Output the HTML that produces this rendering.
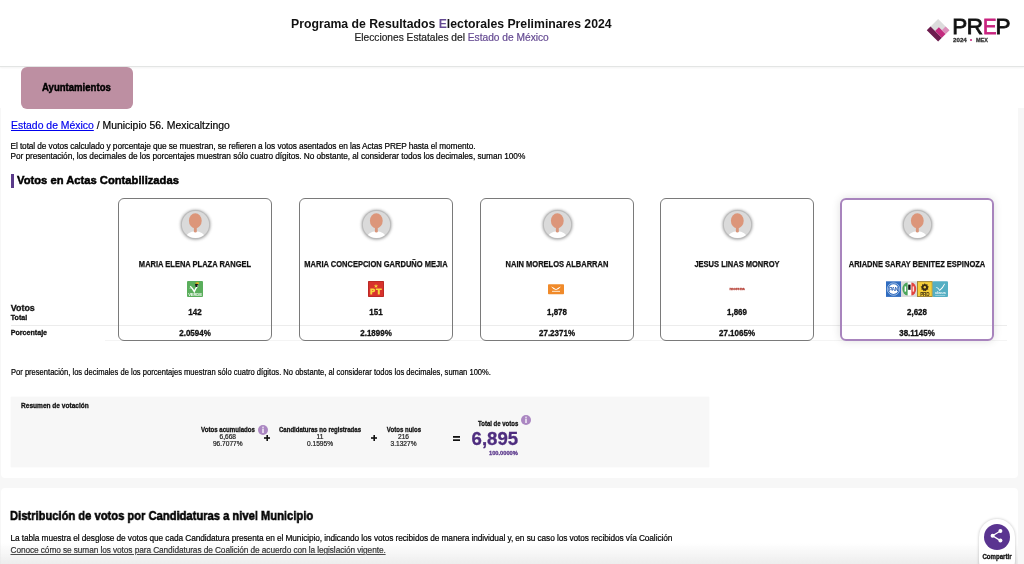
<!DOCTYPE html>
<html><head><meta charset="utf-8">
<style>
html,body{margin:0;padding:0;width:1024px;height:564px;overflow:hidden;background:#f7f7f7;font-family:"Liberation Sans",sans-serif;color:#111;position:relative}
#root{position:absolute;left:0;top:0;width:1024px;height:564px;will-change:transform}
.a{position:absolute;}
.t{position:absolute;white-space:nowrap;line-height:1;}
.b{font-weight:bold;-webkit-text-stroke-width:0.25px}
.t{-webkit-text-stroke-width:0.2px}
.t.b{-webkit-text-stroke-width:0.3px}
.c{text-align:center;}
#hdr{left:0;top:0;width:1024px;height:66px;background:#fff;border-bottom:1px solid #e3e5e4;box-shadow:0 1px 2px rgba(0,0,0,0.05);z-index:2}
#nav{left:0;top:67px;width:1024px;height:41px;background:#fff;}
#main{left:1px;top:108px;width:1017px;height:369.7px;background:#fff;border-radius:0 0 4px 4px}
#sec2{left:1px;top:488px;width:1017px;height:90px;background:#fff;border-radius:4px 4px 0 0}
.card{position:absolute;top:198px;width:154px;height:143px;box-sizing:border-box;border:1px solid #7a7a7a;border-radius:6px;z-index:3}
.card.sel{border:2px solid #a884bd;box-shadow:0 0 9px rgba(0,0,0,0.13)}
.av{position:absolute;left:62px;top:11.2px;width:29px;height:29px}
.pur{color:#654a92}
.nm{-webkit-text-stroke-width:0.25px;position:absolute;left:-40px;width:calc(100% + 80px);top:61.4px;text-align:center;font-size:8.4px;transform:scaleX(0.897);font-weight:bold;line-height:1;white-space:nowrap}
.vt{-webkit-text-stroke-width:0.3px;transform:scaleX(0.92);position:absolute;left:0;width:100%;top:109.3px;text-align:center;font-size:8.7px;font-weight:bold;line-height:1}
.pc{-webkit-text-stroke-width:0.3px;transform:scaleX(0.92);position:absolute;left:0;width:100%;top:129.7px;text-align:center;font-size:8.7px;font-weight:bold;line-height:1}
.sel .av{left:61px;top:10.2px}
.sel .nm{top:60.4px}
.sel .vt{top:108.3px}
.sel .pc{top:128.7px}
</style></head><body><div id="root">
<div id="hdr" class="a">
  <div class="t b" style="left:290.6px;top:16.8px;font-size:13px;-webkit-text-stroke-width:0;transform:scaleX(0.942);transform-origin:0 0;color:#111">Programa de Resultados <span class="pur">E</span>lectorales Preliminares 2024</div>
  <div class="t" style="left:354.5px;top:32.5px;font-size:10.2px;color:#222">Elecciones Estatales del <span class="pur">Estado de México</span></div>
  <svg class="a" style="left:0;top:0" width="1024" height="66">
    <g transform="translate(926.8,30.2) rotate(-45)">
      <rect x="0" y="0" width="16" height="16" fill="#dcdcdc"/>
      <rect x="0" y="0" width="5.2" height="16" fill="#6d1b4e"/>
      <rect x="5.2" y="6.5" width="5.4" height="9.5" fill="#c42a7f"/>
      <rect x="10.6" y="10.6" width="5.4" height="5.4" fill="#dc8dba"/>
    </g>
  </svg>
  <div class="t" style="left:952.2px;top:16.3px;font-size:22.5px;color:#111;-webkit-text-stroke:0.8px #111">P</div>
  <div class="t" style="left:966.8px;top:16.3px;font-size:22.5px;color:#111;-webkit-text-stroke:0.8px #111">R</div>
  <div class="t" style="left:982.6px;top:16.3px;font-size:22.5px;color:#c8247f;-webkit-text-stroke:0.8px #c8247f;transform:scaleX(0.9);transform-origin:0 0">E</div>
  <div class="t" style="left:995.6px;top:16.3px;font-size:22.5px;color:#111;-webkit-text-stroke:0.8px #111">P</div>
  <div class="t b" style="left:953px;top:37px;font-size:6.2px;color:#333">2024</div>
  <div class="a" style="left:970.4px;top:38.5px;width:2px;height:2px;border-radius:50%;background:#c8247f"></div>
  <div class="t b" style="left:976.4px;top:37px;font-size:6.2px;transform:scaleX(0.88);transform-origin:0 0;color:#333">MEX</div>
</div>
<div id="nav" class="a"></div><div id="main" class="a"></div>
<div id="sec2" class="a"></div>

<!-- tab button -->
<div class="a" style="left:21px;top:67px;width:112px;height:41.5px;background:#bd8fa2;border-radius:6px;z-index:3"></div>
<div class="t b" style="left:41.6px;top:82.6px;font-size:10.2px;-webkit-text-stroke-width:0.45px;transform:scaleX(0.94);transform-origin:0 0;color:#000;z-index:4">Ayuntamientos</div>

<!-- breadcrumb -->
<div class="t" style="left:10.5px;top:119.8px;font-size:10.8px;transform:scaleX(0.965);transform-origin:0 0;color:#000"><span style="color:#0000ee;text-decoration:underline">Estado de México</span> / Municipio 56. Mexicaltzingo</div>
<div class="t" style="left:10.5px;top:141.8px;font-size:8.3px;letter-spacing:-0.093px;color:#000">El total de votos calculado y porcentaje que se muestran, se refieren a los votos asentados en las Actas PREP hasta el momento.</div>
<div class="t" style="left:10.5px;top:151.8px;font-size:8.3px;letter-spacing:-0.063px;color:#000">Por presentación, los decimales de los porcentajes muestran sólo cuatro dígitos. No obstante, al considerar todos los decimales, suman 100%</div>

<!-- heading -->
<div class="a" style="left:10.8px;top:174px;width:3.6px;height:13.5px;background:#5a3a8a"></div>
<div class="t b" style="left:17px;top:175.2px;font-size:11.8px;-webkit-text-stroke-width:0.5px;transform:scaleX(0.95);transform-origin:0 0;color:#000">Votos en Actas Contabilizadas</div>

<!-- row labels -->
<div class="t b" style="left:10.8px;top:304px;font-size:8.9px;color:#111">Votos</div>
<div class="t b" style="left:10.8px;top:314.6px;font-size:7.1px;color:#111">Total</div>
<div class="a" style="left:11px;top:325px;width:996px;height:1px;background:#ececec"></div>
<div class="a" style="left:105px;top:340px;width:902px;height:1px;background:#f4f4f4"></div>
<div class="t b" style="left:10.8px;top:330.4px;font-size:7.1px;color:#111">Porcentaje</div>

<div class="card" style="left:118px"><svg class="av" width="29" height="29" viewBox="0 0 29 29" style="overflow:visible">
<defs><clipPath id="cp0"><circle cx="14.5" cy="14.5" r="13.6"/></clipPath>
<filter id="sh0" x="-50%" y="-50%" width="200%" height="200%"><feGaussianBlur stdDeviation="1.6"/></filter></defs>
<circle cx="14.5" cy="14.8" r="14.8" fill="#7a7a7a" opacity="0.75" filter="url(#sh0)"/>
<circle cx="14.5" cy="14.5" r="14.5" fill="#bcbcbc"/>
<circle cx="14.5" cy="14.5" r="13.6" fill="#dadada"/>
<g clip-path="url(#cp0)">
<ellipse cx="14.4" cy="27.6" rx="9.6" ry="6.3" fill="#ffffff"/>
<rect x="12.9" y="15" width="2.9" height="7.6" rx="1.4" fill="#d9957a"/>
<ellipse cx="14.3" cy="10.7" rx="6.4" ry="7.5" fill="#dc967a"/>
</g></svg><div class="nm">MARIA ELENA PLAZA RANGEL</div><svg class="a" style="left:68px;top:82px" width="16" height="16" viewBox="0 0 16 16">
<rect width="16" height="16" rx="1" fill="#5aae5c"/>
<path d="M3.2 5.2 Q5 6.5 7.3 10.6 Q9 6.8 10.8 4.8" stroke="#fff" stroke-width="1.4" fill="none"/>
<path d="M2.2 7.3 L5.2 7.3" stroke="#e8f5e8" stroke-width="0.4"/>
<path d="M8.2 2 Q10.6 0.6 12.2 1.8 L11.8 3.1 Q10.2 2.2 9.2 3.2 Z" fill="#f3b31d"/>
<path d="M8 3.1 Q9.6 2.4 11 3.4 L11.2 5 Q10.4 6.2 8.6 5.8 Z" fill="#111"/>
<path d="M9.6 4.6 Q10.8 4.2 11.5 4.8 L11 5.6 Z" fill="#fff"/>
<text x="8" y="14.6" font-size="4.2" font-weight="bold" fill="#f2fbf2" text-anchor="middle" font-family="Liberation Sans" letter-spacing="-0.15">VERDE</text>
</svg><div class="vt">142</div><div class="pc">2.0594%</div></div>
<div class="card" style="left:299px"><svg class="av" width="29" height="29" viewBox="0 0 29 29" style="overflow:visible">
<defs><clipPath id="cp1"><circle cx="14.5" cy="14.5" r="13.6"/></clipPath>
<filter id="sh1" x="-50%" y="-50%" width="200%" height="200%"><feGaussianBlur stdDeviation="1.6"/></filter></defs>
<circle cx="14.5" cy="14.8" r="14.8" fill="#7a7a7a" opacity="0.75" filter="url(#sh1)"/>
<circle cx="14.5" cy="14.5" r="14.5" fill="#bcbcbc"/>
<circle cx="14.5" cy="14.5" r="13.6" fill="#dadada"/>
<g clip-path="url(#cp1)">
<ellipse cx="14.4" cy="27.6" rx="9.6" ry="6.3" fill="#ffffff"/>
<rect x="12.9" y="15" width="2.9" height="7.6" rx="1.4" fill="#d9957a"/>
<ellipse cx="14.3" cy="10.7" rx="6.4" ry="7.5" fill="#dc967a"/>
</g></svg><div class="nm">MARIA CONCEPCION GARDUÑO MEJIA</div><svg class="a" style="left:68px;top:82px" width="16" height="16" viewBox="0 0 16 16">
<rect width="16" height="16" rx="1" fill="#d8322c"/>
<rect x="0.3" y="0.3" width="15.4" height="15.4" rx="1" fill="none" stroke="#9a2420" stroke-width="0.6"/>
<path d="M8 3 L8.6 4.6 L10.2 4.6 L8.9 5.5 L9.4 7 L8 6.1 L6.6 7 L7.1 5.5 L5.8 4.6 L7.4 4.6 Z" fill="#f6d23a"/>
<path d="M2.3 13.5 V7.4 H5.3 Q7.2 7.4 7.2 9.3 Q7.2 11.2 5.3 11.2 H4.2 V13.5 Z M4.2 8.9 V9.8 H5 Q5.5 9.8 5.5 9.35 Q5.5 8.9 5 8.9 Z" fill="#f8d53a"/>
<path d="M7.8 7.4 H13.8 V9 H11.8 V13.5 H9.8 V9 H7.8 Z" fill="#f8d53a"/>
</svg><div class="vt">151</div><div class="pc">2.1899%</div></div>
<div class="card" style="left:479.5px"><svg class="av" width="29" height="29" viewBox="0 0 29 29" style="overflow:visible">
<defs><clipPath id="cp2"><circle cx="14.5" cy="14.5" r="13.6"/></clipPath>
<filter id="sh2" x="-50%" y="-50%" width="200%" height="200%"><feGaussianBlur stdDeviation="1.6"/></filter></defs>
<circle cx="14.5" cy="14.8" r="14.8" fill="#7a7a7a" opacity="0.75" filter="url(#sh2)"/>
<circle cx="14.5" cy="14.5" r="14.5" fill="#bcbcbc"/>
<circle cx="14.5" cy="14.5" r="13.6" fill="#dadada"/>
<g clip-path="url(#cp2)">
<ellipse cx="14.4" cy="27.6" rx="9.6" ry="6.3" fill="#ffffff"/>
<rect x="12.9" y="15" width="2.9" height="7.6" rx="1.4" fill="#d9957a"/>
<ellipse cx="14.3" cy="10.7" rx="6.4" ry="7.5" fill="#dc967a"/>
</g></svg><div class="nm">NAIN MORELOS ALBARRAN</div><svg class="a" style="left:67px;top:84.5px" width="16" height="11" viewBox="0 0 16 11">
<rect width="16" height="10" y="0.2" rx="0.8" fill="#f08a2a"/>
<path d="M3 2.6 Q5 3.2 6.5 4.2 L8 5.2 L9.5 4.2 Q11 3.2 13 2.6 Q11.5 5 8 5.9 Q4.5 5 3 2.6 Z" fill="#fff"/>
<rect x="4" y="6.8" width="8" height="1.2" fill="#fbd8b4"/>
</svg><div class="vt">1,878</div><div class="pc">27.2371%</div></div>
<div class="card" style="left:660px"><svg class="av" width="29" height="29" viewBox="0 0 29 29" style="overflow:visible">
<defs><clipPath id="cp3"><circle cx="14.5" cy="14.5" r="13.6"/></clipPath>
<filter id="sh3" x="-50%" y="-50%" width="200%" height="200%"><feGaussianBlur stdDeviation="1.6"/></filter></defs>
<circle cx="14.5" cy="14.8" r="14.8" fill="#7a7a7a" opacity="0.75" filter="url(#sh3)"/>
<circle cx="14.5" cy="14.5" r="14.5" fill="#bcbcbc"/>
<circle cx="14.5" cy="14.5" r="13.6" fill="#dadada"/>
<g clip-path="url(#cp3)">
<ellipse cx="14.4" cy="27.6" rx="9.6" ry="6.3" fill="#ffffff"/>
<rect x="12.9" y="15" width="2.9" height="7.6" rx="1.4" fill="#d9957a"/>
<ellipse cx="14.3" cy="10.7" rx="6.4" ry="7.5" fill="#dc967a"/>
</g></svg><div class="nm">JESUS LINAS MONROY</div><div class="t b" style="left:60px;top:88.2px;width:32px;text-align:center;font-size:4.3px;color:#b8463c;letter-spacing:-0.1px">morena</div><div class="vt">1,869</div><div class="pc">27.1065%</div></div>
<div class="card sel" style="left:840px"><svg class="av" width="29" height="29" viewBox="0 0 29 29" style="overflow:visible">
<defs><clipPath id="cp4"><circle cx="14.5" cy="14.5" r="13.6"/></clipPath>
<filter id="sh4" x="-50%" y="-50%" width="200%" height="200%"><feGaussianBlur stdDeviation="1.6"/></filter></defs>
<circle cx="14.5" cy="14.8" r="14.8" fill="#7a7a7a" opacity="0.75" filter="url(#sh4)"/>
<circle cx="14.5" cy="14.5" r="14.5" fill="#bcbcbc"/>
<circle cx="14.5" cy="14.5" r="13.6" fill="#dadada"/>
<g clip-path="url(#cp4)">
<ellipse cx="14.4" cy="27.6" rx="9.6" ry="6.3" fill="#ffffff"/>
<rect x="12.9" y="15" width="2.9" height="7.6" rx="1.4" fill="#d9957a"/>
<ellipse cx="14.3" cy="10.7" rx="6.4" ry="7.5" fill="#dc967a"/>
</g></svg><div class="nm">ARIADNE SARAY BENITEZ ESPINOZA</div><svg class="a" style="left:43.5px;top:81px" width="62" height="16" viewBox="0 0 62 16">
<rect x="0" y="0.3" width="15" height="15.6" fill="#2f6cc0"/>
<circle cx="7.5" cy="8.1" r="6.2" fill="none" stroke="#dfe9f7" stroke-width="0.6"/>
<circle cx="7.5" cy="8.1" r="4.9" fill="#ffffff"/>
<text x="7.5" y="10.2" font-size="5" font-weight="bold" fill="#2a5fb2" text-anchor="middle" font-family="Liberation Sans" letter-spacing="-0.35">PAN</text>
<rect x="15" y="0.3" width="16" height="15.6" fill="#dadada"/>
<rect x="21.2" y="1.6" width="4.6" height="12.8" fill="#fff"/>
<path d="M21.6 1.6 A5.2 6.4 0 0 0 21.6 14.4 Z" fill="#4aa65b"/>
<rect x="18.6" y="5.4" width="1.5" height="5.2" fill="#fff"/>
<rect x="22.2" y="3.6" width="2.4" height="5.2" fill="#111"/>
<path d="M25.4 1.6 A4.8 6.4 0 0 1 25.4 14.4 Z" fill="#e2433d"/>
<rect x="26.6" y="5.4" width="1.5" height="5.2" fill="#fbe0dc"/>
<rect x="31" y="0.3" width="15.6" height="15.6" fill="#f5cf3a"/>
<rect x="31.4" y="0.7" width="14.8" height="14.8" fill="none" stroke="#8d7330" stroke-width="0.8"/>
<path d="M38.8 2.2 L39.8 3.6 L41.5 3.2 L41.5 4.9 L43 5.8 L41.8 7 L42.4 8.6 L40.7 8.8 L39.8 10.2 L38.8 9.4 L37.6 10.2 L36.9 8.8 L35.2 8.6 L35.8 7 L34.6 5.8 L36.1 4.9 L36.1 3.2 L37.8 3.6 Z" fill="#3c2c12"/>
<circle cx="38.8" cy="6.2" r="1.2" fill="#f5cf3a"/>
<text x="38.8" y="14.6" font-size="4.6" font-weight="bold" fill="#3c2c12" text-anchor="middle" font-family="Liberation Sans" letter-spacing="-0.2">PRD</text>
<rect x="46.6" y="0.3" width="15.4" height="15.6" rx="1" fill="#55afc3"/>
<path d="M49.6 6.6 Q51.6 5.6 53.6 8.8 Q56.6 6 58.4 2.4 L58.9 3.2 Q57 8 53.6 10 Q52 7 49.6 6.6 Z" fill="#fff"/>
<text x="54.3" y="13.2" font-size="3.4" font-weight="bold" fill="#eaf7fa" text-anchor="middle" font-family="Liberation Sans" letter-spacing="-0.1">alianza</text>
<rect x="49.2" y="14" width="10" height="0.5" fill="#cfeaf0"/>
</svg><div class="vt">2,628</div><div class="pc">38.1145%</div></div>

<div class="t" style="left:10.8px;top:368.5px;font-size:8.2px;transform:scaleX(0.925);transform-origin:0 0;color:#000">Por presentación, los decimales de los porcentajes muestran sólo cuatro dígitos. No obstante, al considerar todos los decimales, suman 100%.</div>

<div class="a" style="left:10.8px;top:396.5px;width:697.8px;height:70.6px;background:#f7f7f7;box-shadow:0 0 1px rgba(0,0,0,0.08)"></div>
<div class="t b" style="left:20.6px;top:402.4px;font-size:7.2px;transform:scaleX(0.913);transform-origin:0 0;color:#111">Resumen de votación</div>
<div class="t b c" style="left:167.8px;width:120px;top:426.1px;font-size:7px;transform:scaleX(0.872);color:#111">Votos acumulados</div>
<div class="t c" style="left:167.8px;width:120px;top:433.7px;font-size:6.6px;color:#222">6,668</div>
<div class="t c" style="left:167.8px;width:120px;top:440.8px;font-size:6.6px;color:#222">96.7077%</div>
<svg class="a" style="left:257.5px;top:424.8px" width="10" height="10" viewBox="0 0 10 10"><circle cx="5" cy="5" r="5" fill="#ab87c2"/><circle cx="5" cy="2.3" r="0.75" fill="#fff"/><rect x="4.35" y="3.6" width="1.3" height="4.4" fill="#fff"/></svg>
<svg class="a" style="left:263.8px;top:435.4px" width="6.4" height="6" viewBox="0 0 6.4 6"><rect x="0" y="2.2" width="6.4" height="1.6" fill="#111"/><rect x="2.4" y="0" width="1.6" height="6" fill="#111"/></svg>
<div class="t b c" style="left:260px;width:120px;top:426.1px;font-size:7px;transform:scaleX(0.864);color:#111">Candidaturas no registradas</div>
<div class="t c" style="left:260px;width:120px;top:433.7px;font-size:6.6px;color:#222">11</div>
<div class="t c" style="left:260px;width:120px;top:440.8px;font-size:6.6px;color:#222">0.1595%</div>
<svg class="a" style="left:370.8px;top:435.1px" width="6.4" height="6" viewBox="0 0 6.4 6"><rect x="0" y="2.2" width="6.4" height="1.6" fill="#111"/><rect x="2.4" y="0" width="1.6" height="6" fill="#111"/></svg>
<div class="t b c" style="left:343.5px;width:120px;top:426.1px;font-size:7px;transform:scaleX(0.866);color:#111">Votos nulos</div>
<div class="t c" style="left:343.5px;width:120px;top:433.7px;font-size:6.6px;color:#222">216</div>
<div class="t c" style="left:343.5px;width:120px;top:440.8px;font-size:6.6px;color:#222">3.1327%</div>
<svg class="a" style="left:453.2px;top:435.9px" width="7" height="5.2" viewBox="0 0 7 5.2"><rect x="0" y="0" width="7" height="1.8" fill="#111"/><rect x="0" y="3.3" width="7" height="1.8" fill="#111"/></svg>
<div class="t b" style="left:477.6px;top:420.4px;font-size:7px;transform:scaleX(0.857);transform-origin:0 0;color:#111">Total de votos</div>
<svg class="a" style="left:520.9px;top:415.3px" width="10" height="10" viewBox="0 0 10 10"><circle cx="5" cy="5" r="5" fill="#ab87c2"/><circle cx="5" cy="2.3" r="0.75" fill="#fff"/><rect x="4.35" y="3.6" width="1.3" height="4.4" fill="#fff"/></svg>
<div class="t b" style="left:471.6px;top:429.5px;font-size:18.6px;color:#4e2d7f">6,895</div>
<div class="t b" style="left:489px;top:451px;font-size:5.7px;color:#5f3d8f">100.0000%</div>


<div class="t b" style="left:10.3px;top:509.2px;font-size:13.4px;-webkit-text-stroke-width:0.55px;transform:scaleX(0.835);transform-origin:0 0;color:#000">Distribución de votos por Candidaturas a nivel Municipio</div>
<div class="t" style="left:10.5px;top:534.2px;font-size:8.3px;letter-spacing:-0.08px;color:#000">La tabla muestra el desglose de votos que cada Candidatura presenta en el Municipio, indicando los votos recibidos de manera individual y, en su caso los votos recibidos vía Coalición</div>
<div class="t" style="left:10.5px;top:546.2px;font-size:8.3px;letter-spacing:-0.086px;color:#000;text-decoration:underline">Conoce cómo se suman los votos para Candidaturas de Coalición de acuerdo con la legislación vigente.</div>
<div class="a" style="left:0;top:543px;width:1018px;height:21px;background:linear-gradient(to bottom,rgba(235,235,235,0),rgba(225,225,225,0.6));z-index:5"></div>
<div class="a" style="left:978.5px;top:518.5px;width:36.5px;height:60px;border-radius:18px;background:#fff;box-shadow:0 0 3px rgba(0,0,0,0.25);z-index:6"></div>
<div class="a" style="left:984px;top:524px;width:26px;height:26px;border-radius:50%;background:#5a3490;z-index:7"></div>
<svg class="a" style="left:984px;top:524px;z-index:8" width="26" height="26" viewBox="0 0 26 26">
<path d="M16.4 7 L8.6 11.7 L16.4 16.6" stroke="#fff" stroke-width="1.3" fill="none"/>
<circle cx="16.4" cy="7" r="2" fill="#fff"/><circle cx="8.6" cy="11.7" r="2" fill="#fff"/><circle cx="16.4" cy="16.6" r="2" fill="#fff"/>
</svg>
<div class="t b c" style="left:976px;width:42px;top:553.5px;font-size:6.4px;transform:scaleX(0.95);color:#111;z-index:8">Compartir</div>

</div></body></html>
